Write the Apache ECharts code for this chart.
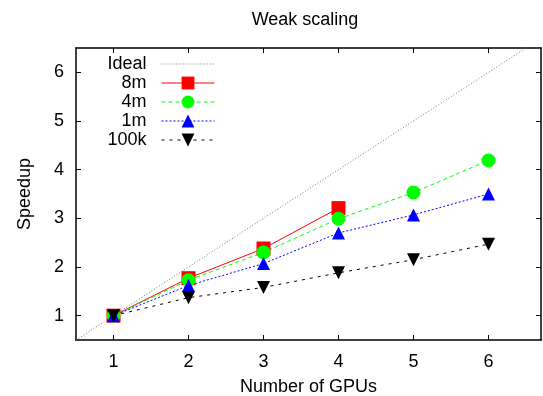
<!DOCTYPE html>
<html>
<head>
<meta charset="utf-8">
<script src="https://cdn.jsdelivr.net/npm/echarts@6/dist/echarts.min.js"></script>
<style>
  html, body { margin: 0; padding: 0; background: #fff; }
  #chart { width: 543px; height: 396px; }
</style>
</head>
<body>
<div id="chart"></div>
<script>
// values
const gpus = [1, 2, 3, 4, 5, 6]
const ideal = [[0.5, 0.5], [6.7, 6.7]]
const s8m = [1, 1.77, 2.38, 3.21]
const s4m = [1, 1.73, 2.3, 2.99, 3.53, 4.19]
const s1m = [1, 1.62, 2.07, 2.7, 3.07, 3.5]
const s100k = [1, 1.37, 1.58, 1.88, 2.15, 2.47]
const yTicks = [1, 2, 3, 4, 5, 6]

const font = 'Liberation Sans, Arial, sans-serif'
const fs = 18
const pairs = arr => arr.map((v, i) => [gpus[i], v])

const chart = echarts.init(document.getElementById('chart'))

// one legend per row so icons line up and text is right-aligned
const names = ['Ideal', '8m', '4m', '1m', '100k']
const legends = names.map((n, i) => ({
  data: [n === 'Ideal' ? { name: n, itemStyle: { opacity: 0 } } : n],
  right: 328,
  top: 55 + i * 19,
  align: 'right',
  itemWidth: 53,
  itemHeight: 16,
  itemGap: 0,
  padding: 0,
  selectedMode: false,
  lineStyle: { width: 1 },
  textStyle: { fontFamily: font, fontSize: fs, color: '#000', padding: [0, 10, 0, 0] }
}))

const axisCommon = {
  type: 'value',
  axisLine: { show: true, onZero: false, lineStyle: { color: '#000', width: 1.5 } },
  splitLine: { show: false },
  axisTick: { inside: true, length: 5, lineStyle: { color: '#000' } }
}

chart.setOption({
  animation: false,
  title: {
    text: 'Weak scaling',
    left: 300,
    top: 6,
    textAlign: 'center',
    textStyle: { fontFamily: font, fontSize: fs, fontWeight: 'normal', color: '#000' }
  },
  legend: legends,
  grid: { left: 76, top: 48, right: 2, bottom: 56, outerBoundsMode: 'none' },
  xAxis: [
    {
      ...axisCommon,
      min: 0.5, max: 6.7,
      name: 'Number of GPUs',
      nameLocation: 'middle',
      nameGap: 38,
      nameTextStyle: { fontFamily: font, fontSize: fs, color: '#000' },
      axisTick: { ...axisCommon.axisTick, customValues: gpus },
      axisLabel: { customValues: gpus, fontFamily: font, fontSize: fs, color: '#000', margin: 13 }
    },
    {
      ...axisCommon,
      position: 'top',
      min: 0.5, max: 6.7,
      axisTick: { ...axisCommon.axisTick, customValues: gpus },
      axisLabel: { show: false }
    }
  ],
  yAxis: [
    {
      ...axisCommon,
      min: 0.5, max: 6.5,
      name: 'Speedup',
      nameLocation: 'middle',
      nameGap: 42,
      nameTextStyle: { fontFamily: font, fontSize: fs, color: '#000' },
      axisTick: { ...axisCommon.axisTick, customValues: yTicks },
      axisLabel: { customValues: yTicks, fontFamily: font, fontSize: fs, color: '#000', margin: 12 }
    },
    {
      ...axisCommon,
      position: 'right',
      min: 0.5, max: 6.5,
      axisTick: { ...axisCommon.axisTick, customValues: yTicks },
      axisLabel: { show: false }
    }
  ],
  // draw order: 8m at the bottom, 100k on top
  series: [
    {
      name: 'Ideal', type: 'line', data: ideal, symbol: 'none',
      lineStyle: { color: '#777', width: 1, type: [1, 2] },
      itemStyle: { color: '#777' }
    },
    {
      name: '8m', type: 'line', data: pairs(s8m),
      symbol: 'rect', symbolSize: 14,
      lineStyle: { color: '#ff0000', width: 1 },
      itemStyle: { color: '#ff0000' }
    },
    {
      name: '4m', type: 'line', data: pairs(s4m),
      symbol: 'circle', symbolSize: 14,
      lineStyle: { color: '#00ff00', width: 1, type: [4, 3] },
      itemStyle: { color: '#00ff00' }
    },
    {
      name: '1m', type: 'line', data: pairs(s1m),
      symbol: 'triangle', symbolSize: 13,
      lineStyle: { color: '#0000ff', width: 1, type: [2, 2] },
      itemStyle: { color: '#0000ff' }
    },
    {
      name: '100k', type: 'line', data: pairs(s100k),
      symbol: 'triangle', symbolRotate: 180, symbolSize: 13,
      lineStyle: { color: '#000', width: 1, type: [3, 5] },
      itemStyle: { color: '#000' }
    }
  ]
})
</script>
</body>
</html>
